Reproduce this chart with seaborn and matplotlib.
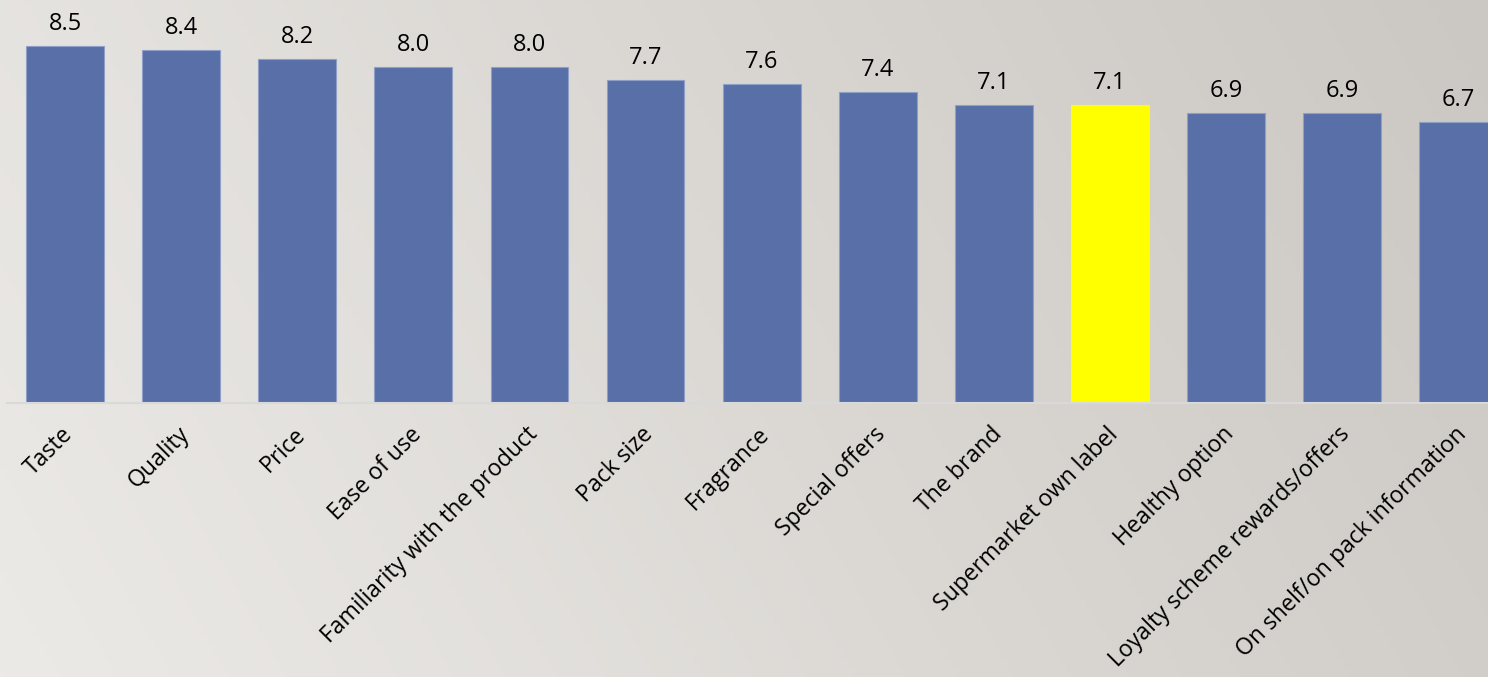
import numpy as np
import pandas as pd
import matplotlib
matplotlib.use("Agg")
import matplotlib.pyplot as plt
import matplotlib.transforms as mtransforms
import seaborn as sns

categories = ["Taste", "Quality", "Price", "Ease of use", "Familiarity with the product",
              "Pack size", "Fragrance", "Special offers", "The brand", "Supermarket own label",
              "Healthy option", "Loyalty scheme rewards/offers", "On shelf/on pack information"]
values = [8.5, 8.4, 8.2, 8.0, 8.0, 7.7, 7.6, 7.4, 7.1, 7.1, 6.9, 6.9, 6.7]
highlight = "Supermarket own label"

BLUE = "#586FA8"
YELLOW = "#FFFF00"

sns.set_theme(style="white")
plt.rcParams['font.family'] = ['Open Sans', 'DejaVu Sans']

df = pd.DataFrame({"category": categories, "value": values})
palette = {c: (YELLOW if c == highlight else BLUE) for c in categories}

fig = plt.figure(figsize=(14.88, 6.77), dpi=100)

# background gradient
bg = fig.add_axes([0, 0, 1, 1], zorder=-10)
xx = np.linspace(0, 1, 300)
yy = np.linspace(0, 1, 150)
X, Y = np.meshgrid(xx, yy)
t = np.clip(0.8 * X + 0.2 * (1 - Y), 0, 1)
c0 = np.array([0xEC, 0xEA, 0xE7]) / 255
c1 = np.array([0xCB, 0xC7, 0xC2]) / 255
img = c0[None, None, :] * (1 - t[..., None]) + c1[None, None, :] * t[..., None]
bg.imshow(img, aspect='auto', extent=[0, 1, 0, 1], origin='upper')
bg.axis('off')

ax = fig.add_axes([7 / 1488, 1 - 403 / 677, 1481 / 1488, 403 / 677])
ax.patch.set_alpha(0)
sns.barplot(data=df, x="category", y="value", hue="category", palette=palette,
            width=0.67, legend=False, ax=ax, edgecolor="#8FA0C8", linewidth=0.8,
            saturation=1)
for p in ax.patches:
    if p.get_facecolor()[:3] == matplotlib.colors.to_rgb(YELLOW):
        p.set_edgecolor(YELLOW)

ax.set_xlim(-0.5, 12.256)
ax.set_ylim(0, 9.595)
for cont in ax.containers:
    ax.bar_label(cont, fmt="%.1f", padding=7, fontsize=17, color="black")

ax.set_xlabel("")
ax.set_ylabel("")
ax.set_yticks([])
ax.set_xticks(range(len(categories)))
ax.set_xticklabels(categories, rotation=45, ha='right', rotation_mode='anchor',
                   fontsize=16.6, color="black")
ax.tick_params(axis='x', length=0, pad=14)
shift = mtransforms.ScaledTranslation(-4 / 100, 0, fig.dpi_scale_trans)
for lab in ax.get_xticklabels():
    lab.set_transform(lab.get_transform() + shift)
for s in ["top", "right", "left"]:
    ax.spines[s].set_visible(False)
ax.spines["bottom"].set_color("#D9D9D9")
ax.spines["bottom"].set_linewidth(1.5)

fig.savefig("out.png", dpi=100)
